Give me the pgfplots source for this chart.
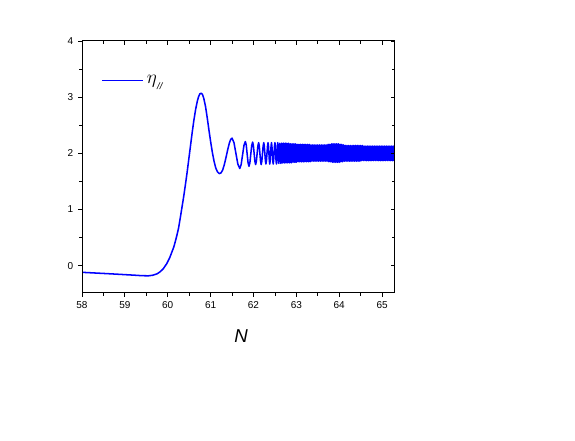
\documentclass[border=0pt]{standalone}
\usepackage{amsmath}
\usepackage{fontspec}
\setmainfont{Liberation Sans}
\usepackage{pgfplots}
\pgfplotsset{compat=1.18}

\pgfplotsset{
  frame/.style={
    scale only axis,
    width=234.4pt, height=189pt,
    at={(61.5pt,111pt)}, anchor=south west,
    xmin=58, xmax=65.29, ymin=-0.486, ymax=4,
    xtick={58,59,...,65}, ytick={0,1,2,3,4},
    minor x tick num=1, minor y tick num=1,
    major tick length=3pt, minor tick length=2pt,
    axis line style={line width=0.75pt},
    every tick/.style={black, line width=0.6pt},
  }
}

\begin{document}
\begin{tikzpicture}
\path[use as bounding box] (0,0) rectangle (431.25pt,330.75pt);

\begin{axis}[
  frame,
  tick align=outside,
  xtick pos=left, ytick pos=left,
  tick label style={font=\fontsize{7.5}{9}\selectfont},
  /pgf/number format/assume math mode=true,
  xlabel={\textit{N}},
  xlabel style={font=\fontsize{14}{16}\selectfont, at={(axis description cs:0.509,0)}, anchor=center, yshift=-32pt},
  legend style={at={(0.048,0.844)}, anchor=west, draw=none, fill=none,
    legend cell align=left},
  legend image code/.code={\draw[#1] (0pt,0pt) -- (31pt,0pt);},
]
\addplot[blue, line width=1.15pt, line join=round] coordinates {
(58.00,-0.118) (58.30,-0.130) (58.60,-0.142) (58.90,-0.155) (59.20,-0.168)
(59.40,-0.178) (59.55,-0.180) (59.65,-0.170) (59.75,-0.145) (59.82,-0.110)
(59.90,-0.050) (59.98,0.040) (60.05,0.150) (60.10,0.250) (60.14,0.330)
(60.18,0.440) (60.21,0.530) (60.25,0.660) (60.29,0.840) (60.33,1.030)
(60.37,1.220) (60.41,1.430) (60.45,1.650) (60.49,1.890) (60.53,2.130)
(60.57,2.370) (60.61,2.590) (60.65,2.780) (60.69,2.930) (60.72,3.010)
(60.75,3.060) (60.78,3.070) (60.81,3.050) (60.84,2.980) (60.88,2.840)
(60.92,2.640) (60.96,2.420) (61.00,2.210) (61.04,2.020) (61.08,1.860)
(61.12,1.740) (61.16,1.670) (61.20,1.640) (61.24,1.650) (61.28,1.700)
(61.32,1.800) (61.36,1.930) (61.40,2.070) (61.44,2.190) (61.47,2.250)
(61.50,2.270) (61.545,2.190) (61.59,2.000) (61.635,1.810) (61.68,1.730)
(61.7125,1.800) (61.745,1.970) (61.7775,2.140) (61.81,2.210)
(61.831,2.150) (61.852,1.990) (61.874,1.830) (61.895,1.770)
(61.916,1.830) (61.937,1.985) (61.959,2.140) (61.98,2.200)
(61.9975,2.140) (62.015,2.000) (62.0325,1.860) (62.05,1.800)
(62.0675,1.860) (62.085,1.995) (62.1025,2.130) (62.12,2.190)
(62.135,2.130) (62.15,1.995) (62.165,1.860) (62.18,1.800)
(62.195,1.860) (62.21,2.000) (62.225,2.130) (62.24,2.190)
(62.2525,2.130) (62.265,2.000) (62.2775,1.870) (62.29,1.810)
(62.3025,1.870) (62.315,2.000) (62.3275,2.130) (62.34,2.190)
(62.35,2.130) (62.36,2.000) (62.37,1.870) (62.38,1.810)
(62.39,1.870) (62.40,2.000) (62.41,2.130) (62.42,2.190)
(62.43,2.130) (62.44,2.000) (62.45,1.870) (62.46,1.810)
(62.47,1.870) (62.48,2.000) (62.49,2.130) (62.50,2.190)
(62.509,2.130) (62.5175,2.000) (62.526,1.870) (62.535,1.810)
(62.5425,1.870) (62.55,2.000) (62.5575,2.130) (62.565,2.190)
(62.571,2.130) (62.5775,2.000) (62.584,1.870) (62.59,1.820)
(62.596,1.870) (62.6025,2.000) (62.609,2.130) (62.615,2.180)
(62.621,2.130) (62.6275,2.000) (62.634,1.870) (62.64,1.820)
(62.65,2.000) (62.66,2.180) (62.67,2.000) (62.68,1.830)
(62.70,2.18) (62.72,1.83) (62.74,2.18) (62.76,1.83) (62.78,2.18) (62.80,1.83)
(62.82,2.18) (62.84,1.83) (62.86,2.17) (62.88,1.83) (62.90,2.17) (62.92,1.84)
(62.94,2.17) (62.96,1.84) (62.98,2.17) (63.00,1.84) (63.02,2.16) (63.04,1.85)
(63.06,2.16) (63.08,1.85) (63.10,2.16) (63.12,1.85) (63.14,2.16) (63.16,1.85)
(63.18,2.16) (63.20,1.85) (63.22,2.16) (63.24,1.85) (63.26,2.16) (63.28,1.85)
(63.30,2.16) (63.32,1.85) (63.34,2.15) (63.36,1.86) (63.38,2.15) (63.40,1.86)
(63.42,2.15) (63.44,1.86) (63.46,2.15) (63.48,1.86) (63.50,2.15) (63.52,1.86)
(63.54,2.15) (63.56,1.86) (63.58,2.15) (63.60,1.86) (63.62,2.15) (63.64,1.86)
(63.66,2.15) (63.68,1.86) (63.70,2.15) (63.72,1.86) (63.74,2.16) (63.76,1.85)
(63.78,2.16) (63.80,1.85) (63.82,2.17) (63.84,1.84) (63.86,2.17) (63.88,1.84)
(63.90,2.17) (63.92,1.84) (63.94,2.17) (63.96,1.84) (63.98,2.17) (64.00,1.84)
(64.02,2.16) (64.04,1.85) (64.06,2.16) (64.08,1.85) (64.10,2.15) (64.12,1.86)
(64.14,2.14) (64.16,1.86) (64.18,2.14) (64.20,1.86) (64.22,2.14) (64.24,1.86)
(64.26,2.14) (64.28,1.86) (64.30,2.14) (64.32,1.86) (64.34,2.14) (64.36,1.86)
(64.38,2.14) (64.40,1.86) (64.42,2.14) (64.44,1.86) (64.46,2.14) (64.48,1.86)
(64.50,2.14) (64.52,1.87) (64.54,2.14) (64.56,1.87) (64.58,2.13) (64.60,1.87)
(64.62,2.13) (64.64,1.87) (64.66,2.13) (64.68,1.87) (64.70,2.13) (64.72,1.87)
(64.74,2.13) (64.76,1.87) (64.78,2.13) (64.80,1.87) (64.82,2.13) (64.84,1.87)
(64.86,2.13) (64.88,1.87) (64.90,2.13) (64.92,1.87) (64.94,2.13) (64.96,1.87)
(64.98,2.13) (65.00,1.87) (65.02,2.13) (65.04,1.87) (65.06,2.13) (65.08,1.87)
(65.10,2.13) (65.12,1.87) (65.14,2.13) (65.16,1.87) (65.18,2.13) (65.20,1.87)
(65.22,2.13) (65.24,1.87) (65.26,2.13) (65.28,1.87) (65.30,2.13) (65.32,1.87)
};
\addlegendentry{\fontsize{15}{17}\selectfont$\eta$\kern0.3pt\raisebox{-4.5pt}{\fontsize{7}{8}\selectfont\itshape //}}
\end{axis}

% mirrored ticks on top and right, pointing inward
\begin{axis}[
  frame,
  tick align=inside,
  xtick pos=right, ytick pos=right,
  xticklabels={}, yticklabels={},
]
\end{axis}
\end{tikzpicture}
\end{document}
